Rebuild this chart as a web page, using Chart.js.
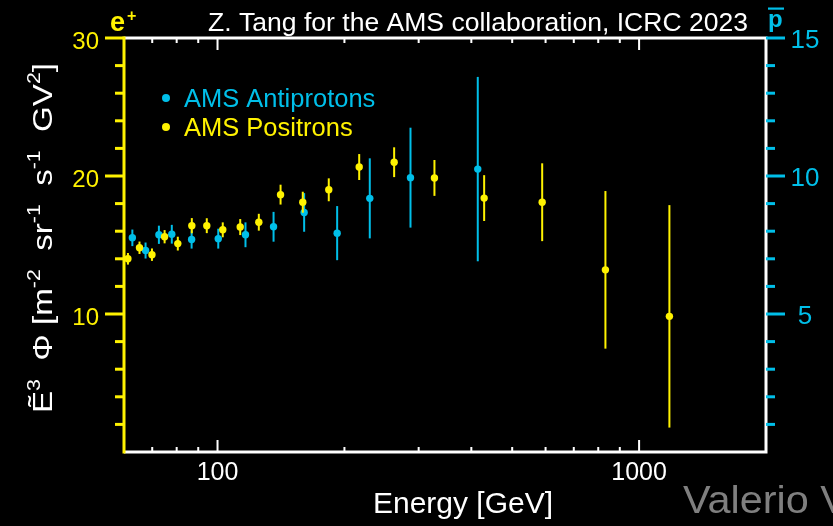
<!DOCTYPE html>
<html>
<head>
<meta charset="utf-8">
<title>AMS positrons and antiprotons</title>
<script src="https://cdn.jsdelivr.net/npm/chart.js@4.4.0/dist/chart.umd.min.js"></script>
<style>
  html, body { margin: 0; padding: 0; background: #000; }
  #wrap { width: 833px; height: 526px; }
</style>
</head>
<body>
<div id="wrap"><canvas id="flux" width="833" height="526"></canvas></div>
<script>
// ---- positrons: E^3 x flux, left axis ----
const positronEnergy = [61.3, 65.3, 69.9, 74.9, 80.5, 86.9, 94.3, 102.9, 113.2, 125.3,
                        141.1, 159.3, 183.6, 216.8, 262.4, 327.0, 429, 589, 832, 1180];
const positronFlux   = [14.0, 14.8, 14.3, 15.6, 15.1, 16.4, 16.4, 16.1, 16.3, 16.65,
                        18.65, 18.1, 19.0, 20.65, 21.0, 19.86, 18.4, 18.1, 13.2, 9.83];
const positronErr    = [0.42, 0.45, 0.45, 0.48, 0.50, 0.55, 0.54, 0.54, 0.58, 0.61,
                        0.72, 0.76, 0.83, 0.94, 1.08, 1.30, 1.66, 2.82, 5.71, 8.06];

// ---- antiprotons: right axis ----
const antiprotonEnergy = [62.8, 67.5, 72.6, 77.9, 86.8, 100.4, 116.5, 135.8, 160.5, 192.2, 229.7, 286.9, 414.3];
const antiprotonFlux   = [7.76, 7.30, 7.87, 7.89, 7.70, 7.73, 7.87, 8.16, 8.68, 7.93, 9.19, 9.94, 10.25];
const antiprotonErr    = [0.30, 0.29, 0.33, 0.34, 0.33, 0.36, 0.45, 0.54, 0.70, 0.98, 1.45, 1.81, 3.34];

// ---- axes ----
const xRange = [60, 2000];
const xMajorTicks = [100, 1000];
const xMinorTicks = [70, 80, 90, 200, 300, 400, 500, 600, 700, 800, 900, 2000];
const leftRange = [0, 30];
const leftTicks = [10, 20, 30];
const leftMinorStep = 2;
const rightRange = [0, 15];
const rightTicks = [5, 10, 15];
const rightMinorStep = 1;

const FONT = "'Liberation Sans', Arial, Helvetica, sans-serif";
const CYAN = '#00bfe9';
const YELLOW = '#fff200';
const WHITE = '#ffffff';

function txt(ctx, s, x, y, size, color, align = 'left', weight = '') {
  ctx.font = `${weight} ${size}px ${FONT}`;
  ctx.fillStyle = color;
  ctx.textAlign = align;
  ctx.textBaseline = 'alphabetic';
  ctx.fillText(s, x, y);
}

// left-aligned text stretched sideways to a given run length
function txtWide(ctx, s, x, y, size, color, width) {
  ctx.save();
  ctx.font = `${size}px ${FONT}`;
  const k = width / ctx.measureText(s).width;
  ctx.translate(x, y);
  ctx.scale(k, 1);
  txt(ctx, s, 0, 0, size, color);
  ctx.restore();
}

// vertical error bars, drawn just under each dataset's markers
const errorBars = {
  id: 'errorBars',
  beforeDatasetDraw(chart, args) {
    const ds = chart.data.datasets[args.index];
    if (!ds.errors) return;
    const xs = chart.scales.x, ys = chart.scales[ds.yAxisID];
    const ctx = chart.ctx;
    ctx.save();
    ctx.strokeStyle = ds.backgroundColor;
    ctx.lineWidth = 2;
    ds.data.forEach((p, i) => {
      const px = xs.getPixelForValue(p.x);
      ctx.beginPath();
      ctx.moveTo(px, ys.getPixelForValue(p.y - ds.errors[i]));
      ctx.lineTo(px, ys.getPixelForValue(p.y + ds.errors[i]));
      ctx.stroke();
    });
    ctx.restore();
  }
};

// frame, ticks and all the lettering
const frame = {
  id: 'frame',
  afterDraw(chart) {
    const { ctx, chartArea: a, scales } = chart;
    const xs = scales.x, yl = scales.y, yr = scales.y2;
    ctx.save();

    // white box (top, right, bottom)
    ctx.strokeStyle = WHITE;
    ctx.lineWidth = 3;
    ctx.beginPath();
    ctx.moveTo(a.left, a.top);
    ctx.lineTo(a.right, a.top);
    ctx.lineTo(a.right, a.bottom);
    ctx.lineTo(a.left, a.bottom);
    ctx.stroke();

    // energy ticks point inwards on top and bottom
    ctx.lineWidth = 2;
    const tickX = (v, len) => {
      const px = xs.getPixelForValue(v);
      ctx.beginPath();
      ctx.moveTo(px, a.bottom); ctx.lineTo(px, a.bottom - len);
      ctx.moveTo(px, a.top); ctx.lineTo(px, a.top + len);
      ctx.stroke();
    };
    xMinorTicks.forEach(v => tickX(v, 5));
    xMajorTicks.forEach(v => tickX(v, 12));
    xMajorTicks.forEach(v => txt(ctx, String(v), xs.getPixelForValue(v), a.bottom + 28, 25, WHITE, 'center'));

    // left (positron) axis
    ctx.strokeStyle = YELLOW;
    ctx.lineWidth = 3;
    ctx.beginPath();
    ctx.moveTo(a.left, a.top - 1.5); ctx.lineTo(a.left, a.bottom + 1.5);
    ctx.stroke();
    for (let v = leftRange[0] + leftMinorStep; v <= leftRange[1]; v += leftMinorStep) {
      const py = yl.getPixelForValue(v);
      const len = leftTicks.includes(v) ? 19 : 9;
      ctx.beginPath();
      ctx.moveTo(a.left, py); ctx.lineTo(a.left - len, py);
      ctx.stroke();
    }
    leftTicks.forEach(v => txt(ctx, String(v), 99, yl.getPixelForValue(v) + 11, 24, YELLOW, 'right'));

    // right (antiproton) axis
    ctx.strokeStyle = CYAN;
    for (let v = rightRange[0] + rightMinorStep; v <= rightRange[1]; v += rightMinorStep) {
      const py = yr.getPixelForValue(v);
      const len = rightTicks.includes(v) ? 19 : 9;
      ctx.beginPath();
      ctx.moveTo(a.right, py); ctx.lineTo(a.right + len, py);
      ctx.stroke();
    }
    rightTicks.forEach(v => txt(ctx, String(v), 805, yr.getPixelForValue(v) + 10, 26, CYAN, 'center'));

    // particle labels over the axes
    txt(ctx, 'e', 110, 30.5, 27, YELLOW, 'left', 'bold');
    txt(ctx, '+', 127, 20.5, 16, YELLOW, 'left', 'bold');
    txt(ctx, 'p', 768, 27, 24, CYAN, 'left', 'bold');
    ctx.fillStyle = CYAN;
    ctx.fillRect(768, 7.5, 16, 2.2);

    // header
    txtWide(ctx, 'Z. Tang for the AMS collaboration, ICRC 2023', 208, 31, 25, WHITE, 540);

    // legend
    const legend = [['AMS Antiprotons', CYAN, 98], ['AMS Positrons', YELLOW, 127]];
    legend.forEach(([label, col, y]) => {
      ctx.fillStyle = col;
      ctx.beginPath();
      ctx.arc(166, y, 4, 0, Math.PI * 2);
      ctx.fill();
      txt(ctx, label, 184, y + 8.5, 25.5, col);
    });

    // axis titles
    txt(ctx, 'Energy [GeV]', 463, 513, 30, WHITE, 'center');

    ctx.save();
    ctx.translate(52, 413);
    ctx.rotate(-Math.PI / 2);
    const runs = [['Ẽ', 0], ['3', 1], ['  Φ [m', 0], ['-2', 1], ['  sr', 0], ['-1', 1],
                  ['  s', 0], ['-1', 1], ['  GV', 0], ['2', 1], [']', 0]];
    const fontOf = sup => `${sup ? 18 : 28}px ${FONT}`;
    let total = 0;
    runs.forEach(([s, sup]) => { ctx.font = fontOf(sup); total += ctx.measureText(s).width; });
    ctx.scale(350 / total, 1);
    let cx = 0;
    runs.forEach(([s, sup]) => {
      ctx.font = fontOf(sup);
      ctx.fillStyle = WHITE;
      ctx.textAlign = 'left';
      ctx.fillText(s, cx, sup ? -12 : 0);
      cx += ctx.measureText(s).width;
    });
    ctx.restore();

    // speaker name at the bottom corner
    txtWide(ctx, 'Valerio V', 683, 513, 39, '#7f7f7f', 165);

    ctx.restore();
  }
};

const toPoints = (xs, ys) => xs.map((x, i) => ({ x, y: ys[i] }));

new Chart(document.getElementById('flux'), {
  type: 'scatter',
  data: {
    datasets: [
      {
        label: 'AMS Positrons',
        data: toPoints(positronEnergy, positronFlux),
        errors: positronErr,
        yAxisID: 'y',
        backgroundColor: YELLOW,
        borderWidth: 0,
        pointRadius: 3.7,
      },
      {
        label: 'AMS Antiprotons',
        data: toPoints(antiprotonEnergy, antiprotonFlux),
        errors: antiprotonErr,
        yAxisID: 'y2',
        backgroundColor: CYAN,
        borderWidth: 0,
        pointRadius: 3.7,
      },
    ],
  },
  options: {
    responsive: false,
    animation: false,
    events: [],
    layout: { padding: { left: 124, top: 38, right: 67, bottom: 74 } },
    plugins: { legend: { display: false }, tooltip: { enabled: false } },
    scales: {
      x: { type: 'logarithmic', min: xRange[0], max: xRange[1], display: false },
      y: { type: 'linear', min: leftRange[0], max: leftRange[1], display: false },
      y2: { type: 'linear', min: rightRange[0], max: rightRange[1], display: false },
    },
  },
  plugins: [errorBars, frame],
});
</script>
</body>
</html>
